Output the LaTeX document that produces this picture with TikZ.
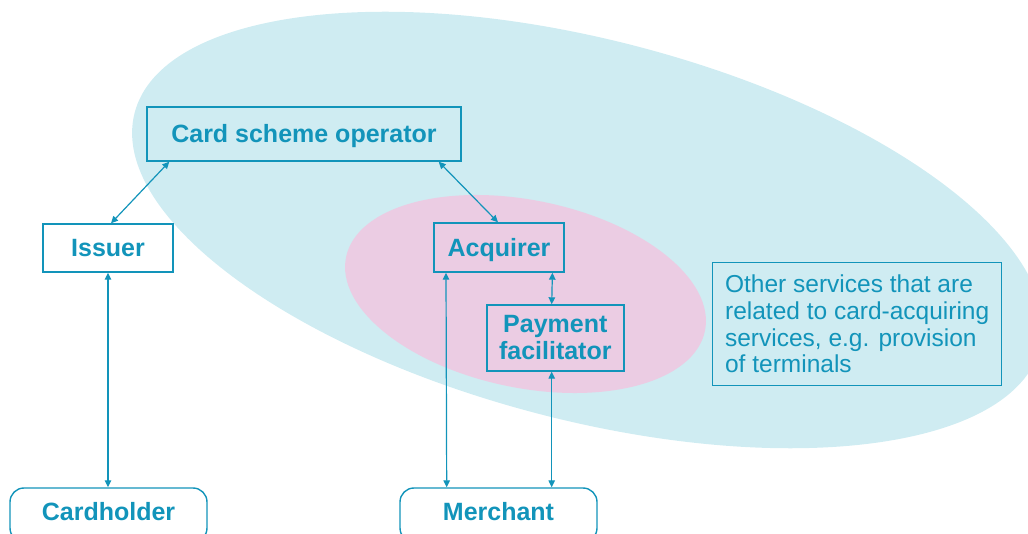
\documentclass[tikz,border=0pt]{standalone}
\usepackage{fontspec}
\setmainfont{Liberation Sans}
\usetikzlibrary{arrows.meta,calc}
\definecolor{ink}{RGB}{18,148,186}
\definecolor{schemefill}{RGB}{207,236,242}
\definecolor{acqfill}{RGB}{235,204,227}
\begin{document}
\begin{tikzpicture}[x=1pt, y=-1pt,
  tag/.style={draw=ink, line width=1.4pt, text=ink, inner sep=0pt,
    font=\bfseries\fontsize{25}{27}\selectfont, align=center},
  oneline/.style={tag, text height=18pt, text depth=0pt},
  party/.style={oneline, rounded corners=14pt, minimum width=197pt,
    minimum height=54pt, text depth=8pt},
  note/.style={draw=ink, line width=1.4pt, text=ink, inner sep=0pt,
    font=\fontsize{24.5}{26.8}\selectfont, align=left},
  link/.style={draw=ink, line width=1.2pt,
    {Triangle[length=7pt,width=6.5pt]}-{Triangle[length=7pt,width=6.5pt]}}]

\useasboundingbox (0,0) rectangle (1028,534);
\clip (0,0) rectangle (1028,534);

% scheme domain and acquiring domain
\fill[schemefill, shift={(587.5,230)}, rotate=-14.5]
  (0,0) ellipse [x radius=467.8pt, y radius=190.2pt];
\fill[acqfill, shift={(525.5,294)}, rotate=-11.6]
  (0,0) ellipse [x radius=183.2pt, y radius=93.8pt];

% participants
\node[oneline, minimum width=314pt, minimum height=54pt] (cso) at (304,134) {Card scheme operator};
\node[oneline, minimum width=130pt, minimum height=48pt] (iss) at (108,248) {Issuer};
\node[oneline, minimum width=130pt, minimum height=49pt] (acq) at (499,247.5) {Acquirer};
\node[tag, minimum width=137pt, minimum height=66pt] (pf) at (555.3,338) {Payment\\facilitator};
\node[party] (ch) at (108.5,515) {Cardholder};
\node[party] (me) at (498.5,515) {Merchant};
\node[note, minimum width=289pt, minimum height=123.5pt] (oth) at (857.2,324)
  {Other services that are\\related to card-acquiring\\services, e.g. provision\\of terminals};

% relations
\draw[link] ([xshift=23pt]cso.south west) -- ([xshift=3pt]iss.north);
\draw[link] ([xshift=-23pt]cso.south east) -- ([xshift=-1pt]acq.north);
\draw[link] ([xshift=-12.3pt]acq.south east) -- ([xshift=-3.6pt]pf.north);
\draw[link] (iss.south) -- (iss.south |- ch.north);
\draw[link] ([xshift=12.7pt]acq.south west) -- ([xshift=-51.8pt]me.north);
\draw[link] ([xshift=-3.6pt]pf.south) -- ([xshift=53.2pt]me.north);
\end{tikzpicture}
\end{document}
